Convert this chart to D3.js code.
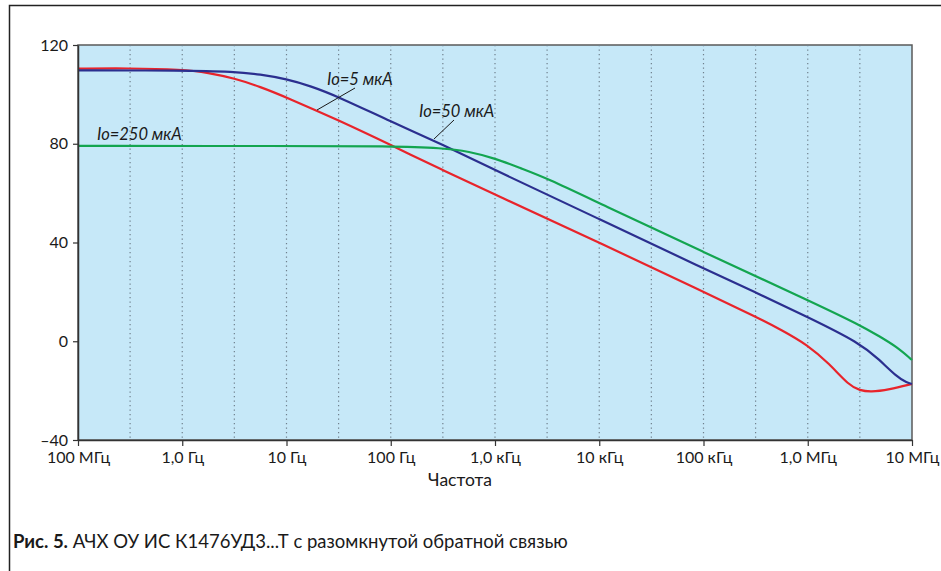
<!DOCTYPE html>
<html>
<head>
<meta charset="utf-8">
<script src="https://cdn.jsdelivr.net/npm/d3@7"></script>
<style>
  body { margin: 0; background: #fff; }
  svg { display: block; font-family: Lato, "Open Sans", sans-serif; }
</style>
</head>
<body>
<script>
const w = 941;
const h = 571;
const margin = { left: 78, right: 29, top: 45, bottom: 131 };

// Io = 5 мкА (red)
const freq5 = [0.1, 0.3, 1, 1.78, 3.16, 5.6, 10, 31.6, 100, 316, 1e3, 1e4, 1e5, 3.16e5, 5.6e5, 1e6, 1.6e6, 2.5e6, 3.16e6, 4e6, 6e6, 1e7];
const gain5 = [110.4, 110.6, 110.1, 108.8, 106.5, 103.1, 98.8, 89.5, 79.5, 69.3, 59.4, 40, 20, 10, 4.6, -1.5, -9, -18, -19.9, -20.6, -19.6, -17.3];

// Io = 50 мкА (blue)
const freq50 = [0.1, 1, 3.16, 5.6, 10, 17, 31.6, 100, 316, 1e3, 1e4, 1e5, 3.16e5, 1e6, 3.16e6, 4.9e6, 7.1e6, 9e6, 1e7];
const gain50 = [109.7, 109.7, 109.2, 108.1, 106.2, 103.4, 99, 89, 79.6, 69.3, 49.5, 29.5, 19.8, 9.8, -0.7, -7.6, -14.3, -16.9, -17.3];

// Io = 250 мкА (green)
const freq250 = [0.1, 10, 100, 316, 562, 1e3, 1.78e3, 3.16e3, 1e4, 1e5, 1e6, 3.16e6, 4.9e6, 7.1e6, 1e7];
const gain250 = [79.1, 79.1, 79.0, 78.3, 76.9, 74.1, 70, 66, 55.9, 36.1, 16.7, 6.6, 1.9, -2.2, -7.6];

const xTicks = [0.1, 1, 10, 100, 1e3, 1e4, 1e5, 1e6, 1e7];
const xTickLabels = ["100 МГц", "1,0 Гц", "10 Гц", "100 Гц", "1,0 кГц", "10 кГц", "100 кГц", "1,0 МГц", "10 МГц"];
const gridFreqs = [0.316, 1, 3.16, 10, 31.6, 100, 316, 1e3, 3.16e3, 1e4, 3.16e4, 1e5, 3.16e5, 1e6, 3.16e6];
const yTicks = [-40, 0, 40, 80, 120];

const series = [
  { name: "Io=5 мкА", freq: freq5, gain: gain5, color: "#e8242b" },
  { name: "Io=50 мкА", freq: freq50, gain: gain50, color: "#2b2f8f" },
  { name: "Io=250 мкА", freq: freq250, gain: gain250, color: "#13a550" }
];

const xScale = d3.scaleLog()
  .domain([0.1, 1e7])
  .range([margin.left, w - margin.right]);

const yScale = d3.scaleLinear()
  .domain([-40, 120])
  .range([h - margin.bottom, margin.top]);

const svg = d3.select("body")
  .append("svg")
  .attr("width", w)
  .attr("height", h);

// FRAME
svg.append("path")
  .attr("d", `M9.5,${h} V5.5 H${w}`)
  .attr("fill", "none")
  .attr("stroke", "#222")
  .attr("stroke-width", 1.5);

// PLOT BACKGROUND
svg.append("rect")
  .attr("x", margin.left)
  .attr("y", margin.top)
  .attr("width", w - margin.left - margin.right)
  .attr("height", h - margin.top - margin.bottom)
  .attr("fill", "#c6e8f8")
  .attr("stroke", "#5a5a5a")
  .attr("stroke-width", 1.5);

// GRID
svg.append("g")
  .selectAll("line")
  .data(gridFreqs)
  .join("line")
  .attr("x1", d => xScale(d))
  .attr("x2", d => xScale(d))
  .attr("y1", margin.top)
  .attr("y2", h - margin.bottom)
  .attr("stroke", "#6f7f8c")
  .attr("stroke-width", 1.2)
  .attr("stroke-dasharray", "1.3,3.2");

// CURVES
const line = d3.line()
  .x(d => xScale(d[0]))
  .y(d => yScale(d[1]))
  .curve(d3.curveBasis);

svg.append("g")
  .selectAll("path")
  .data(series)
  .join("path")
  .attr("d", s => line(d3.zip(s.freq, s.gain)))
  .attr("fill", "none")
  .attr("stroke", s => s.color)
  .attr("stroke-width", 2.2);

// AXES
const xAxis = svg.append("g")
  .attr("transform", `translate(0, ${h - margin.bottom})`)
  .call(
    d3.axisBottom(xScale)
      .tickValues(xTicks)
      .tickFormat((d, i) => xTickLabels[i])
      .tickSize(6)
      .tickSizeOuter(0)
  );

const yAxis = svg.append("g")
  .attr("transform", `translate(${margin.left}, 0)`)
  .call(
    d3.axisLeft(yScale)
      .tickValues(yTicks)
      .tickFormat(d => d < 0 ? "–" + Math.abs(d) : d)
      .tickSize(5)
      .tickSizeOuter(0)
  );

[xAxis, yAxis].forEach(a => {
  a.select(".domain").attr("stroke", "#333").attr("stroke-width", 1.5);
  a.selectAll(".tick line").attr("stroke", "#333").attr("stroke-width", 1.2);
  a.selectAll("text")
    .attr("fill", "#1a1a1a")
    .style("font-size", "16px")
    .style("font-family", "Lato, sans-serif");
});
xAxis.selectAll("text").attr("dy", "0.71em").attr("y", 12);
yAxis.selectAll("text").attr("x", -10);

// AXIS TITLE
svg.append("text")
  .attr("x", 460)
  .attr("y", 486)
  .attr("text-anchor", "middle")
  .attr("fill", "#1a1a1a")
  .style("font-size", "17.5px")
  .text("Частота");

// CURVE LABELS
const labels = [
  { text: series[0].name, x: 327, y: 85, lx1: 317, ly1: 110, lx2: 355, ly2: 88 },
  { text: series[1].name, x: 419, y: 117, lx1: 434, ly1: 139, lx2: 454, ly2: 120 },
  { text: series[2].name, x: 97, y: 140 }
];

labels.forEach(l => {
  svg.append("text")
    .attr("x", l.x)
    .attr("y", l.y)
    .attr("fill", "#1a1a1a")
    .style("font-size", "16.5px")
    .style("font-style", "italic")
    .text(l.text);
  if (l.lx1) {
    svg.append("line")
      .attr("x1", l.lx1).attr("y1", l.ly1)
      .attr("x2", l.lx2).attr("y2", l.ly2)
      .attr("stroke", "#1a1a1a")
      .attr("stroke-width", 1);
  }
});

// CAPTION
const caption = svg.append("text")
  .attr("x", 13)
  .attr("y", 548)
  .attr("fill", "#1a1a1a")
  .style("font-size", "18.5px");
caption.append("tspan").attr("font-weight", "bold").text("Рис. 5.");
caption.append("tspan").text(" АЧХ ОУ ИС К1476УД3...Т с разомкнутой обратной связью");
</script>
</body>
</html>
